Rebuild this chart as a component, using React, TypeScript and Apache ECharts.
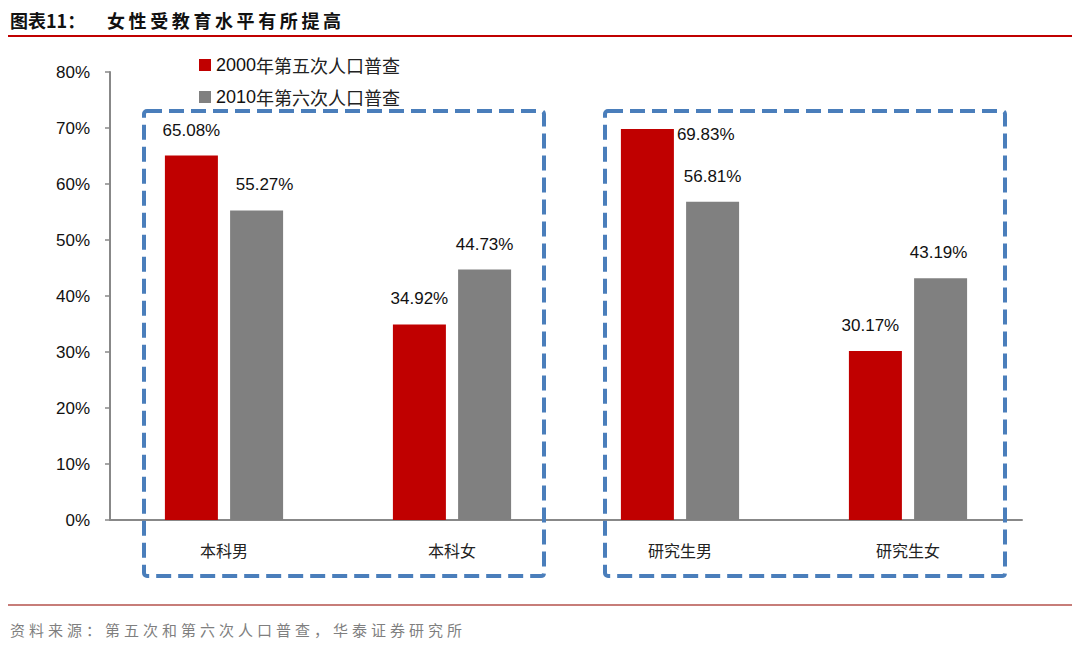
import React, { useEffect, useRef } from 'react';
import * as echarts from 'echarts';

// ---- data ----
const categories = ['本科男', '本科女', '研究生男', '研究生女'];
const seriesNames = ['2000年第五次人口普查', '2010年第六次人口普查'];
const census2000 = [65.08, 34.92, 69.83, 30.17];
const census2010 = [55.27, 44.73, 56.81, 43.19];
const yMin = 0;
const yMax = 80;
const yInterval = 10;
const titleLead = '图表11：';
const titleMain = '女性受教育水平有所提高';
const sourceText = '资料来源：第五次和第六次人口普查，华泰证券研究所';

// ---- styles ----
const RED = '#c00000';
const GRAY = '#808080';
const BLUE = '#4a7ebb';
const NUM_FONT = '"Liberation Sans", Arial, sans-serif';
const CJK_FONT = '"Noto Sans CJK SC", sans-serif';

const label2000 = [
  { offset: [0, 0] },
  { offset: [0, 0] },
  { position: ['100%', 0], offset: [3, -3] },
  { offset: [-5, 0] },
];
const label2010 = [
  { offset: [8, 0] },
  { offset: [0, 0] },
  { offset: [0, 0] },
  { offset: [-2, 0] },
];

function charTexts(str: string, x0: number, y: number, advance: number, style: any) {
  return str.split('').map((ch, i) => ({
    type: 'text',
    x: x0 + i * advance,
    y,
    style: { text: ch, ...style, verticalAlign: 'middle' },
    silent: true,
  }));
}

export default function App() {
  const ref = useRef<HTMLDivElement>(null);
  useEffect(() => {
    if (!ref.current) return;
    const chart = echarts.init(ref.current, null, { renderer: 'svg' });

    const makeData = (vals: number[], labels: any[]) =>
      vals.map((v, i) => ({ value: v, label: { ...labels[i] } }));

    const labelBase = {
      show: true,
      position: 'top',
      distance: 17,
      formatter: (p: any) => p.value.toFixed(2) + '%',
      fontFamily: NUM_FONT,
      fontSize: 17,
      color: '#111',
    };

    const option: any = {
      animation: false,
      backgroundColor: '#ffffff',
      grid: { left: 110, right: 58, top: 72, bottom: 128, containLabel: false },
      legend: {
        orient: 'vertical',
        left: 194,
        top: 51,
        itemWidth: 12,
        itemHeight: 12,
        itemGap: 14,
        icon: 'rect',
        data: seriesNames,
        formatter: (name: string) => {
          const m = name.match(/^(\d+)(.*)$/);
          return m ? `{a|${m[1]}}{b|${m[2]}}` : name;
        },
        textStyle: {
          rich: {
            a: { fontFamily: NUM_FONT, fontSize: 18, color: '#111' },
            b: { fontFamily: CJK_FONT, fontSize: 18, color: '#222' },
          },
        },
      },
      xAxis: {
        type: 'category',
        data: categories,
        axisLine: { lineStyle: { color: '#888', width: 2 } },
        axisTick: { show: false },
        axisLabel: { fontFamily: CJK_FONT, fontSize: 16, color: '#222', margin: 22 },
      },
      yAxis: {
        type: 'value',
        min: yMin,
        max: yMax,
        interval: yInterval,
        axisLine: { show: true, lineStyle: { color: '#888', width: 2 } },
        axisTick: { show: true, length: 5, inside: false, lineStyle: { color: '#888', width: 1.5 } },
        splitLine: { show: false },
        axisLabel: {
          formatter: (v: number) => v + '%',
          fontFamily: NUM_FONT,
          fontSize: 17,
          color: '#111',
          margin: 20,
        },
      },
      series: [
        {
          name: seriesNames[0],
          type: 'bar',
          barWidth: 53,
          barGap: '23%',
          itemStyle: { color: RED },
          label: labelBase,
          data: makeData(census2000, label2000),
        },
        {
          name: seriesNames[1],
          type: 'bar',
          barWidth: 53,
          barGap: '23%',
          itemStyle: { color: GRAY },
          label: labelBase,
          data: makeData(census2010, label2010),
        },
      ],
      graphic: [
        {
          type: 'text',
          x: 10,
          y: 20,
          style: { text: titleLead, fontFamily: CJK_FONT, fontSize: 18, fontWeight: 'bold', fill: '#111', verticalAlign: 'middle' },
          silent: true,
        },
        ...charTexts(titleMain, 107, 20, 21.6, { fontFamily: CJK_FONT, fontSize: 18, fontWeight: 'bold', fill: '#111' }),
        {
          type: 'line',
          shape: { x1: 8, y1: 36, x2: 1072, y2: 36 },
          style: { stroke: RED, lineWidth: 2 },
          silent: true,
        },
        {
          type: 'line',
          shape: { x1: 8, y1: 605, x2: 1072, y2: 605 },
          style: { stroke: '#b5524c', lineWidth: 1.5 },
          silent: true,
        },
        ...charTexts(sourceText, 10, 629, 19, { fontFamily: CJK_FONT, fontSize: 15, fill: '#7f7f7f' }),
        {
          type: 'rect',
          shape: { x: 144, y: 111, width: 400, height: 465, r: 3 },
          style: { fill: 'none', stroke: BLUE, lineWidth: 4, lineDash: [15, 7] },
          silent: true,
          z: 10,
        },
        {
          type: 'rect',
          shape: { x: 605, y: 111, width: 400, height: 465, r: 3 },
          style: { fill: 'none', stroke: BLUE, lineWidth: 4, lineDash: [15, 7] },
          silent: true,
          z: 10,
        },
      ],
    };
    chart.setOption(option);
    return () => chart.dispose();
  }, []);

  return (
    <div
      ref={ref}
      style={{ position: 'absolute', left: 0, top: 0, width: 1080, height: 648, background: '#fff' }}
    />
  );
}
